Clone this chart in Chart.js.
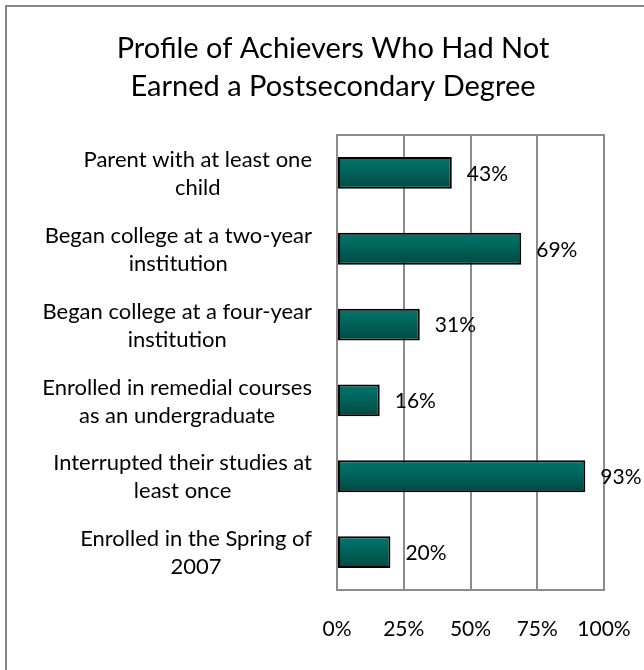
<!DOCTYPE html>
<html>
<head>
<meta charset="utf-8">
<title>Profile of Achievers</title>
<script src="https://cdn.jsdelivr.net/npm/chart.js@4"></script>
<style>
    body { margin: 0; background: #fff; }
    #wrap { position: relative; width: 644px; height: 670px; overflow: hidden; }
</style>
</head>
<body>
<div id="wrap">
    <canvas id="profileChart" width="644" height="670"></canvas>
</div>
<script>
const titleLines = ['Profile of Achievers Who Had Not', 'Earned a Postsecondary Degree'];

const categories = [
    ['Parent with at least one', 'child'],
    ['Began college at a two-year', 'institution'],
    ['Began college at a four-year', 'institution'],
    ['Enrolled in remedial courses', 'as an undergraduate'],
    ['Interrupted their studies at', 'least once'],
    ['Enrolled in the Spring of', '2007']
];

const shares = [43, 69, 31, 16, 93, 20];

const tickValues = [0, 25, 50, 75, 100];

const FONT = 'Lato, Carlito, Calibri, sans-serif';
const GRID = '#8c8c8c';

function barFill(context) {
    const chart = context.chart;
    const y = chart.scales.y;
    if (!y || context.dataIndex === undefined) return '#006860';
    const center = y.getPixelForValue(context.dataIndex);
    if (!isFinite(center)) return '#006860';
    const half = 16;
    const g = chart.ctx.createLinearGradient(0, center - half, 0, center + half);
    g.addColorStop(0, '#00766c');
    g.addColorStop(0.5, '#006159');
    g.addColorStop(1, '#004842');
    return g;
}

// frame lines, title, two-line category labels and value labels
const decorations = {
    id: 'decorations',
    beforeDraw(chart) {
        const ctx = chart.ctx;
        ctx.save();
        ctx.strokeStyle = '#878787';
        ctx.lineWidth = 2;
        ctx.beginPath();
        ctx.moveTo(6, 700);
        ctx.lineTo(6, 6);
        ctx.lineTo(700, 6);
        ctx.stroke();

        ctx.fillStyle = '#000';
        ctx.font = '29px ' + FONT;
        ctx.textAlign = 'center';
        ctx.textBaseline = 'alphabetic';
        ctx.fillText(titleLines[0], 333, 58);
        ctx.fillText(titleLines[1], 333, 96);
        ctx.restore();
    },
    afterDraw(chart) {
        const ctx = chart.ctx;
        const area = chart.chartArea;
        const y = chart.scales.y;
        ctx.save();

        ctx.strokeStyle = GRID;
        ctx.lineWidth = 2;
        ctx.strokeRect(area.left, area.top, area.right - area.left, area.bottom - area.top);

        ctx.fillStyle = '#000';
        ctx.font = '22px ' + FONT;
        ctx.textBaseline = 'middle';
        ctx.textAlign = 'center';
        const lineGap = 28;
        categories.forEach((lines, i) => {
            const cy = y.getPixelForValue(i) + 1;
            const widths = lines.map(l => ctx.measureText(l).width);
            const blockW = Math.max(...widths);
            const cx = 312 - blockW / 2;
            lines.forEach((l, k) => {
                ctx.fillText(l, cx, cy + (k - (lines.length - 1) / 2) * lineGap);
            });
        });

        ctx.font = '21px ' + FONT;
        ctx.textAlign = 'left';
        const meta = chart.getDatasetMeta(0);
        meta.data.forEach((bar, i) => {
            ctx.fillText(shares[i] + '%', bar.x + 15, bar.y + 1);
        });
        ctx.restore();
    }
};

new Chart(document.getElementById('profileChart'), {
    type: 'bar',
    data: {
        labels: categories,
        datasets: [{
            data: shares,
            backgroundColor: barFill,
            borderColor: '#000',
            borderWidth: 2,
            borderSkipped: false,
            barPercentage: 0.42,
            categoryPercentage: 1
        }]
    },
    options: {
        indexAxis: 'y',
        responsive: false,
        animation: false,
        layout: {
            padding: { left: 337, top: 135, right: 40, bottom: 0 }
        },
        plugins: {
            legend: { display: false },
            title: { display: false },
            tooltip: { enabled: false }
        },
        scales: {
            x: {
                min: 0,
                max: 100,
                afterBuildTicks: scale => {
                    scale.ticks = tickValues.map(v => ({ value: v }));
                },
                afterFit: scale => {
                    scale.height = 80;
                    scale.paddingLeft = 0;
                    scale.paddingRight = 0;
                },
                ticks: {
                    callback: v => v + '%',
                    color: '#000',
                    padding: 27,
                    font: { family: FONT, size: 21 }
                },
                grid: { color: GRID, lineWidth: 2, drawTicks: false },
                border: { display: false }
            },
            y: {
                afterFit: scale => { scale.width = 0; },
                ticks: { display: false },
                grid: { display: false, drawTicks: false },
                border: { display: false }
            }
        }
    },
    plugins: [decorations]
});
</script>
</body>
</html>
